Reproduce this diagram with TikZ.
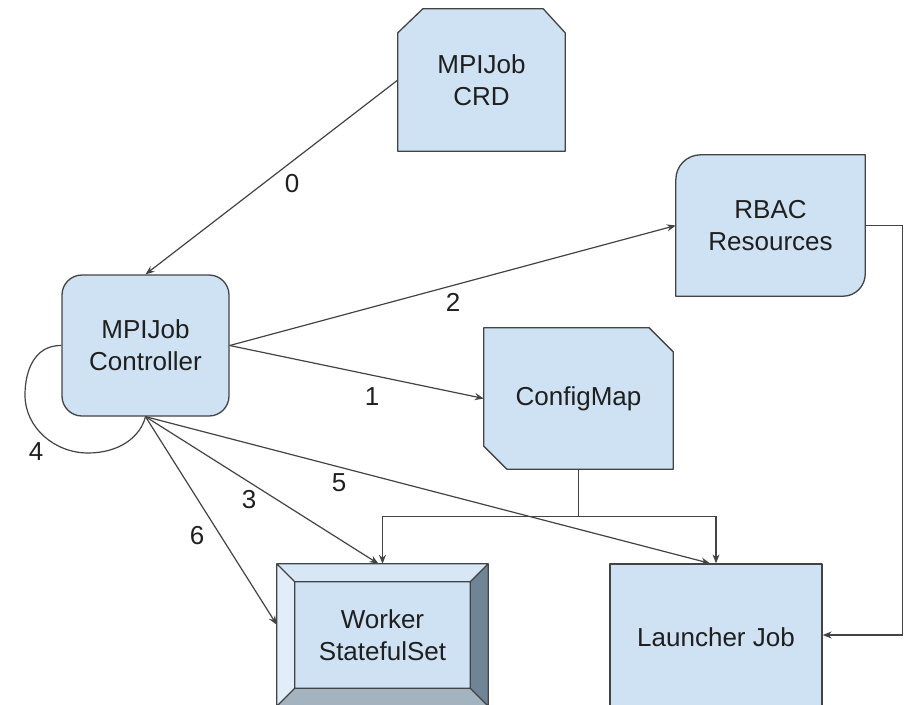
\documentclass[tikz,border=0pt]{standalone}
\usepackage{fontspec}
\setmainfont{Liberation Sans}
\usetikzlibrary{arrows.meta,calc,backgrounds}
\definecolor{boxblue}{HTML}{CFE2F3}
\definecolor{edge}{HTML}{434343}
\definecolor{ink}{HTML}{1F1F1F}
\definecolor{bevtop}{HTML}{D8E7F5}
\definecolor{bevleft}{HTML}{E1EDF8}
\definecolor{bevright}{HTML}{6F8595}
\definecolor{bevbot}{HTML}{A3B3C0}

\tikzset{
  txt/.style={font=\fontsize{26}{32}\selectfont, text=ink},
  slot/.style={txt, rectangle, inner sep=0pt, align=center},
  outline/.style={fill=boxblue, draw=edge, line width=1.3pt, line join=round},
  arr/.style={draw=edge, line width=1.2pt, -{Stealth[length=9pt,width=7pt]}},
  wire/.style={draw=edge, line width=1.2pt},
  lbl/.style={txt, inner sep=1pt},
}

\begin{document}
\begin{tikzpicture}[x=1pt,y=-1pt]
\useasboundingbox (0,0) rectangle (904,704);

% ---- boxes (text holders) ----
\node[slot, minimum width=167pt, minimum height=142pt] (crd) at (481.5,80) {MPIJob\\CRD};
\node[slot, minimum width=189pt, minimum height=141pt] (rbac) at (770.5,225.5) {RBAC\\Resources};
\node[slot, outline, rounded corners=20pt, minimum width=167pt, minimum height=141pt] (ctrl) at (145.5,345.5) {MPIJob\\Controller};
\node[slot, minimum width=189pt, minimum height=141pt] (cm) at (578.5,398.5) {ConfigMap};
\node[slot, minimum width=211pt, minimum height=142pt] (worker) at (382.5,635) {Worker\\StatefulSet};
\node[slot, outline, minimum width=212pt, minimum height=146pt] (launcher) at (716,637) {Launcher Job};

% ---- custom outlines behind the text ----
\begin{pgfonlayer}{background}
  % CRD: both top corners cut
  \draw[outline] ($(crd.north west)+(0,24)$) -- ($(crd.north west)+(25,0)$)
    -- ($(crd.north east)+(-22,0)$) -- ($(crd.north east)+(0,24)$)
    -- (crd.south east) -- (crd.south west) -- cycle;
  % RBAC: top-left and bottom-right corners rounded
  \draw[outline] (rbac.south west) -- ($(rbac.north west)+(0,25)$)
    .. controls ($(rbac.north west)+(0,11)$) and ($(rbac.north west)+(11,0)$) .. ($(rbac.north west)+(25,0)$)
    -- (rbac.north east) -- ($(rbac.south east)+(0,-22)$)
    .. controls ($(rbac.south east)+(0,-10)$) and ($(rbac.south east)+(-10,0)$) .. ($(rbac.south east)+(-22,0)$)
    -- cycle;
  % ConfigMap: top-right and bottom-left corners cut
  \draw[outline] (cm.north west) -- ($(cm.north east)+(-24,0)$)
    -- ($(cm.north east)+(0,24)$) -- (cm.south east)
    -- ($(cm.south west)+(23,0)$) -- ($(cm.south west)+(0,-23)$) -- cycle;
  % Worker StatefulSet: bevelled frame
  \coordinate (o1) at (worker.north west);
  \coordinate (o2) at (worker.north east);
  \coordinate (o3) at (worker.south east);
  \coordinate (o4) at (worker.south west);
  \coordinate (i1) at ($(o1)+(18,18)$);
  \coordinate (i2) at ($(o2)+(-18,18)$);
  \coordinate (i3) at ($(o3)+(-18,-18)$);
  \coordinate (i4) at ($(o4)+(18,-18)$);
  \fill[bevtop] (o1) -- (o2) -- (i2) -- (i1) -- cycle;
  \fill[bevright] (o2) -- (o3) -- (i3) -- (i2) -- cycle;
  \fill[bevbot] (o3) -- (o4) -- (i4) -- (i3) -- cycle;
  \fill[bevleft] (o4) -- (o1) -- (i1) -- (i4) -- cycle;
  \fill[boxblue] (i1) rectangle (i3);
  \draw[edge, line width=1.3pt, line join=round] (o1) rectangle (o3) (i1) rectangle (i3)
    (o1) -- (i1) (o2) -- (i2) (o3) -- (i3) (o4) -- (i4);
\end{pgfonlayer}

% ---- connectors ----
\draw[arr] (crd.west) -- (ctrl.north);
\draw[arr] (ctrl.east) -- (rbac.west);
\draw[arr] (ctrl.east) -- (cm.west);
\draw[wire] (ctrl.west) .. controls (35,345) and (25,370) .. (25,395)
  .. controls (25,428) and (55,453) .. (88,453)
  .. controls (118,453) and (140,438) .. (ctrl.south);
\draw[arr] (ctrl.south) -- ($(worker.north west)+(0,61)$);
\draw[arr] (ctrl.south) -- ($(worker.north)+(-4,0)$);
\draw[arr] (ctrl.south) -- ($(launcher.north)+(-6,0)$);
\draw[arr] (cm.south) -- ++(0,47) -| (worker.north);
\draw[arr] (cm.south) -- ++(0,47) -| (launcher.north);
\draw[arr] (rbac.east) -- ++(37,0) |- ($(launcher.east)+(0,-2)$);

% ---- step labels ----
\node[lbl] (n0) at (292,184) {0};
\node[lbl] (n1) at (372,397) {1};
\node[lbl] (n2) at (453,302) {2};
\node[lbl] (n3) at (249,500) {3};
\node[lbl] (n4) at (36,452) {4};
\node[lbl] (n5) at (339,483) {5};
\node[lbl] (n6) at (197,536) {6};
\end{tikzpicture}
\end{document}
